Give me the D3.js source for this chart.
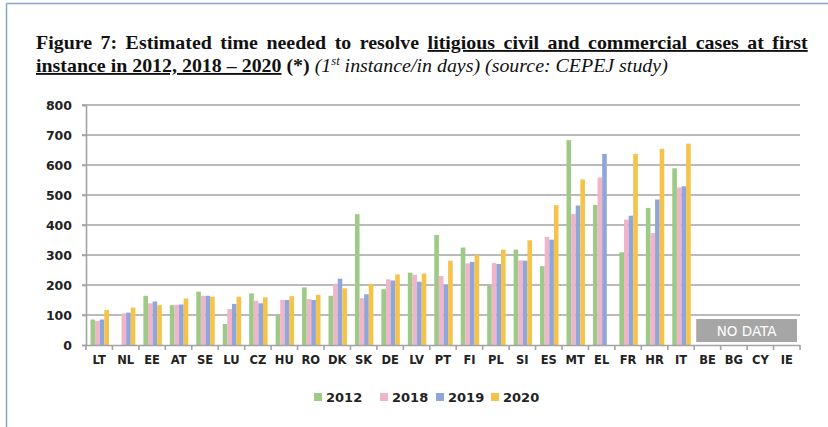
<!DOCTYPE html>
<html><head><meta charset="utf-8">
<script src="https://cdn.jsdelivr.net/npm/d3@7"></script>
<style>
html,body{margin:0;padding:0;background:#fff;}
svg{display:block;}
</style></head>
<body>
<svg id="chart" width="828" height="427"></svg>
<script>
const categories = ["LT","NL","EE","AT","SE","LU","CZ","HU","RO","DK","SK","DE","LV","PT","FI","PL","SI","ES","MT","EL","FR","HR","IT","BE","BG","CY","IE"];
const seriesNames = ["2012","2018","2019","2020"];
const v2012 = [85,null,164,133,178,70,172,99,192,164,436,186,241,367,325,197,318,263,683,467,309,457,589,null,null,null,null];
const v2018 = [80,105,139,134,164,120,148,150,153,204,156,219,234,230,272,273,282,360,437,558,418,373,525,null,null,null,null];
const v2019 = [85,108,145,135,164,137,139,150,150,221,169,215,211,200,277,270,281,351,465,637,431,485,529,null,null,null,null];
const v2020 = [117,125,133,155,161,161,159,163,167,189,204,235,238,281,300,318,349,466,552,null,637,654,671,null,null,null,null];
const yTicks = [0,100,200,300,400,500,600,700,800];
const noDataCats = ["BE","BG","CY","IE"];
const colors = ["#9dca86","#f0b4cb","#91a6d8","#f5c34a"];

const seriesValues = [v2012, v2018, v2019, v2020];
const svg = d3.select("#chart");

// frame
svg.append("line").attr("x1",6.5).attr("x2",6.5).attr("y1",3.5).attr("y2",427).attr("stroke","#86a3cc").attr("stroke-width",1.5);
svg.append("line").attr("x1",6.5).attr("x2",828).attr("y1",3.5).attr("y2",3.5).attr("stroke","#86a3cc").attr("stroke-width",1.5);

// title
const tg = svg.append("g");
const t1 = tg.append("text").attr("x",0).attr("y",49)
  .style("font-family","'Liberation Serif', 'Times New Roman', serif").style("font-size","19px").style("font-weight","bold").attr("fill","#111");
t1.append("tspan").text("Figure 7: Estimated time needed to resolve ");
t1.append("tspan").style("text-decoration","underline").text("litigious civil and commercial cases at first");
const t2 = tg.append("text").attr("x",0).attr("y",72)
  .style("font-family","'Liberation Serif', 'Times New Roman', serif").style("font-size","19px").attr("fill","#111");
t2.append("tspan").style("font-weight","bold").style("text-decoration","underline").text("instance in 2012, 2018 \u2013 2020");
t2.append("tspan").style("font-weight","bold").text(" (*) ");
t2.append("tspan").style("font-style","italic").text("(1");
t2.append("tspan").style("font-style","italic").style("font-size","12px").attr("dy",-7).text("st");
t2.append("tspan").style("font-style","italic").attr("dy",7).text(" instance/in days) (source: CEPEJ study)");
const w2 = t2.node().getComputedTextLength();
const s = (668-36)/w2;
const w1 = t1.node().getComputedTextLength();
const nSpaces = (t1.text().match(/ /g) || []).length;
const extra = ((808-36)/s - w1)/nSpaces;
t1.style("word-spacing", extra + "px");
tg.attr("transform",`translate(36,0) scale(${s},1)`);

// scales
const x0 = d3.scaleBand().domain(categories).range([86,800]).padding(0);
const bw = x0.bandwidth();
const x1 = d3.scaleBand().domain(seriesNames).range([4.5, bw-3.5]).padding(0);
const y = d3.scaleLinear().domain([0,800]).range([345,105]);

// gridlines
svg.append("g").selectAll("line").data(yTicks.filter(d=>d>0)).join("line")
  .attr("x1",82).attr("x2",800).attr("y1",d=>y(d)).attr("y2",d=>y(d))
  .attr("stroke","#a3a3a3").attr("stroke-width",1.6);

// y axis
const yAxis = svg.append("g").attr("transform","translate(86,0)")
  .call(d3.axisLeft(y).tickValues(yTicks).tickSize(4).tickPadding(10));
yAxis.select(".domain").attr("stroke","#a3a3a3").attr("stroke-width",1.6);
yAxis.selectAll(".tick line").attr("stroke","#a3a3a3").attr("stroke-width",1.6);
yAxis.selectAll("text").style("font-family","'DejaVu Sans', Verdana, sans-serif").style("font-size","12.5px").style("font-weight","bold").attr("fill","#222");

// bars
const barG = svg.append("g");
seriesNames.forEach((sn,si)=>{
  barG.append("g").selectAll("rect")
    .data(categories.map((c,i)=>({c, v: seriesValues[si][i]})).filter(d=>d.v!=null))
    .join("rect")
    .attr("x",d=>x0(d.c)+x1(sn))
    .attr("width",x1.bandwidth())
    .attr("y",d=>y(d.v))
    .attr("height",d=>y(0)-y(d.v))
    .attr("fill",colors[si]);
});

// x axis
const xAxis = svg.append("g").attr("transform","translate(0,345)")
  .call(d3.axisBottom(x0).tickSize(0).tickPadding(11));
xAxis.select(".domain").attr("stroke","#a3a3a3").attr("stroke-width",1.6);
xAxis.selectAll("text").style("font-family","'DejaVu Sans', Verdana, sans-serif").style("font-size","11.5px").style("font-weight","bold").attr("fill","#222");
// boundary ticks
svg.append("g").selectAll("line").data(categories.map(c=>x0(c)).concat([x0(categories[categories.length-1])+bw]))
  .join("line").attr("x1",d=>d).attr("x2",d=>d).attr("y1",345).attr("y2",350)
  .attr("stroke","#a3a3a3").attr("stroke-width",1.6);

// no data box
const nx0 = x0(noDataCats[0]) + 2;
const nx1 = x0(noDataCats[noDataCats.length-1]) + bw - 3;
svg.append("rect").attr("x",nx0).attr("y",319).attr("width",nx1-nx0).attr("height",23).attr("fill","#a6a6a6");
svg.append("text").attr("x",(nx0+nx1)/2).attr("y",336).attr("text-anchor","middle")
  .style("font-family","'DejaVu Sans', Verdana, sans-serif").style("font-size","13.5px").attr("fill","#fff").text("NO DATA");

// legend
const legX = [314, 380, 436, 491];
const lg = svg.append("g");
seriesNames.forEach((sn,i)=>{
  lg.append("rect").attr("x",legX[i]).attr("y",393).attr("width",8).attr("height",8).attr("fill",colors[i]);
  lg.append("text").attr("x",legX[i]+12).attr("y",401.5)
    .style("font-family","'DejaVu Sans', Verdana, sans-serif").style("font-size","13px").style("font-weight","bold").attr("fill","#222").text(sn);
});
</script>
</body></html>
